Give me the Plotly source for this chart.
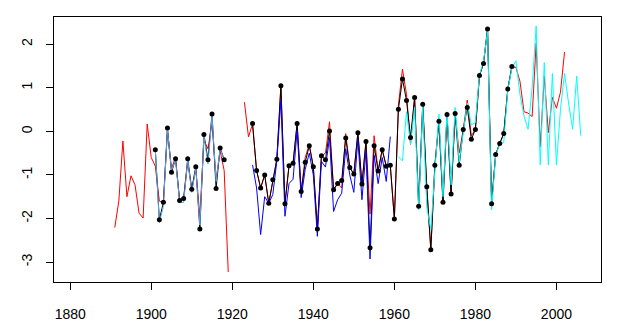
import plotly.graph_objects as go

# ---- data ----
red_years = list(range(1891, 2003))
red_vals = [
    -2.21, -1.6, -0.22, -1.5, -1.02, -1.23, -1.88, -1.99, 0.17, -0.6,      # 1891-1900
    -0.8, -1.6, -1.65, 0.0, -0.85, -0.6, -1.6, -1.55, -0.7, -1.35,        # 1901-1910
    -0.85, -1.95, -0.2, -0.4, 0.2, -1.1, -0.45, -0.9, -3.23, None,        # 1911-1920
    None, None, 0.67, -0.13, 0.17, -0.9, -1.30, -1.0, -1.65, -1.11,       # 1921-1930
    -0.64, 1.05, -1.66, -0.79, -0.73, 0.18, -1.38, -0.6, -0.3, -0.81,     # 1931-1940
    -2.24, -0.56, -0.5, 0.22, -1.34, -1.2, -1.3, -0.05, -0.83, -0.98,     # 1941-1950
    -0.03, -1.21, -0.23, -1.9, -0.1, -0.91, -0.42, -0.8, -0.78, -2.01,    # 1951-1960
    0.6, 1.43, 0.85, -0.3, 0.78, -1.72, 0.62, -1.27, -2.72, -0.78,        # 1961-1970
    0.23, -1.63, 0.39, -1.44, 0.41, -0.5, 0.04, 0.72, -0.1, 0.04,         # 1971-1980
    1.28, 1.56, 2.35, -1.66, -0.53, -0.28, -0.05, 0.97, 1.48, 1.47,       # 1981-1990
    1.15, 0.45, 0.42, 0.34, 2.02, -0.35, 1.27, -0.03, 0.78, 0.53,         # 1991-2000
    0.9, 1.82,                                                            # 2001-2002
]

black_years = list(range(1901, 1990))
black_vals = [
    -0.42, -2.03, -1.63, 0.08, -0.94, -0.63, -1.59, -1.54, -0.63, -1.33,  # 1901-1910
    -0.81, -2.24, -0.07, -0.65, 0.40, -1.31, -0.38, -0.65, None, None,    # 1911-1920
    None, None, None, None, 0.18, -0.9, -1.30, -1.0, -1.65, -1.11,        # 1921-1930
    -0.64, 1.05, -1.66, -0.79, -0.73, 0.18, -1.38, -0.71, -0.33, -0.81,   # 1931-1940
    -2.24, -0.56, -0.65, 0.01, -1.34, -1.2, -1.13, -0.15, -0.83, -0.98,   # 1941-1950
    -0.03, -1.21, -0.23, -2.67, -0.33, -0.91, -0.42, -0.8, -0.78, -2.01,  # 1951-1960
    0.51, 1.2, 0.71, -0.14, 0.78, -1.72, 0.62, -1.27, -2.72, -0.78,       # 1961-1970
    0.23, -1.63, 0.39, -1.44, 0.41, -0.78, 0.04, 0.55, -0.18, 0.04,       # 1971-1980
    1.28, 1.56, 2.35, -1.66, -0.53, -0.28, -0.05, 0.97, 1.49,             # 1981-1989
]

lightblue_years = list(range(1901, 1919))
lightblue_vals = [
    -0.42, -2.1, -1.72, 0.05, -0.9, -0.65, -1.63, -1.63, -0.65, -1.4,
    -0.85, -2.15, -0.1, -0.75, 0.35, -1.15, -0.4, -0.65,
]

blue_years = list(range(1925, 1960))
blue_vals = [
    -0.77, -1.3, -2.37, -1.5, -1.65, -1.45, -0.68, 0.72, -1.95, -1.2,     # 1925-1934
    -1.1, 0.03, -1.52, -0.87, -0.5, -1.0, -2.41, -0.69, -0.82, -0.15,     # 1935-1944
    -1.84, -1.57, -1.42, -0.4, -1.0, -1.4, -0.18, -1.57, -0.45, -2.93,    # 1945-1954
    -0.55, -1.2, -0.6, -1.15, -0.12,                                      # 1955-1959
]

cyan_years = list(range(1961, 2007))
cyan_vals = [
    -0.58, -0.68, 0.45, -0.3, 0.55, -1.8, 0.57, -1.75, -2.25, -0.8,       # 1961-1970
    0.4, -1.5, 0.45, -1.23, 0.55, -0.7, 0.0, 0.65, 0.15, 0.2,             # 1971-1980
    1.3, 1.6, 2.3, -1.8, -0.55, -0.3, -0.25, 0.95, 1.45, 1.62,            # 1981-1990
    0.85, 0.35, 0.05, 1.0, 2.42, -0.77, 1.58, -0.77, 1.33, -0.77,         # 1991-2000
    0.5, 1.33, 0.65, 0.05, 1.27, -0.1,                                    # 2001-2006
]

x_ticks = [1880, 1900, 1920, 1940, 1960, 1980, 2000]
y_ticks = [-3, -2, -1, 0, 1, 2]

# ---- figure ----
fig = go.Figure()
fig.add_trace(go.Scatter(x=red_years, y=red_vals, mode="lines",
                         line=dict(color="#FF0000", width=1), connectgaps=False))
fig.add_trace(go.Scatter(x=black_years, y=black_vals, mode="lines",
                         line=dict(color="#000000", width=1), connectgaps=False))
fig.add_trace(go.Scatter(x=lightblue_years, y=lightblue_vals, mode="lines",
                         line=dict(color="#58A8F0", width=1)))
fig.add_trace(go.Scatter(x=blue_years, y=blue_vals, mode="lines",
                         line=dict(color="#0000FF", width=1)))
fig.add_trace(go.Scatter(x=cyan_years, y=cyan_vals, mode="lines",
                         line=dict(color="#00FFFF", width=1)))
fig.add_trace(go.Scatter(x=black_years, y=black_vals, mode="markers",
                         marker=dict(color="#000000", size=5, line=dict(width=0))))

font = dict(family="Liberation Sans, Arial, sans-serif", size=14, color="#000000")
fig.update_layout(
    width=617, height=336,
    margin=dict(l=54, r=16, t=17, b=54),
    paper_bgcolor="white", plot_bgcolor="white",
    showlegend=False,
    font=font,
    xaxis=dict(range=[1876, 2011], tickvals=x_ticks, ticktext=[str(v) for v in x_ticks],
               showgrid=False, zeroline=False, showline=True, mirror=True,
               linecolor="black", linewidth=1, ticks="outside", ticklen=7,
               tickcolor="black", tickwidth=1, ticklabelstandoff=12, tickfont=font),
    yaxis=dict(range=[-3.459, 2.626], tickvals=y_ticks, ticktext=[str(v) for v in y_ticks],
               showgrid=False, zeroline=False, showline=True, mirror=True,
               linecolor="black", linewidth=1, ticks="outside", ticklen=7,
               tickcolor="black", tickwidth=1, tickangle=-90, ticklabelstandoff=8,
               tickfont=font),
)
fig.write_html("out.html")
